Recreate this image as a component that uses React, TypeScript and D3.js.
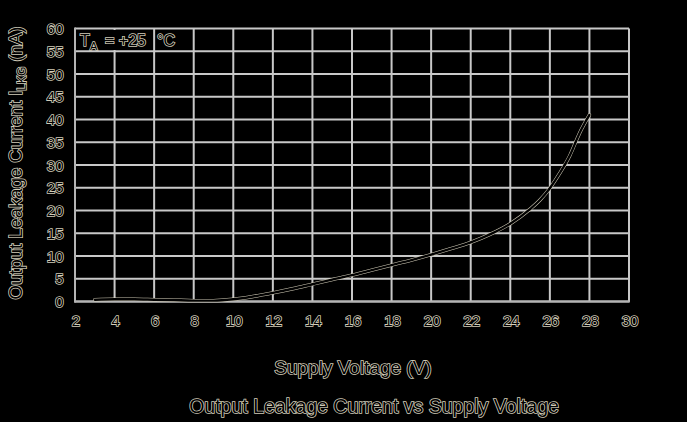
import React, { useEffect } from "react";
import * as d3 from "d3";

const voltage = [3, 4, 5, 6, 7, 8, 9, 10, 11, 12, 13, 14, 15, 16, 17, 18, 19, 20, 21, 22, 23, 24, 25, 25.5, 26, 26.5, 27, 27.5, 28];
const leakage = [0.4, 0.5, 0.5, 0.4, 0.3, 0.2, 0.2, 0.5, 1.1, 1.9, 2.8, 3.8, 4.8, 5.8, 6.9, 8.0, 9.1, 10.3, 11.6, 13.0, 14.8, 17.1, 20.3, 22.3, 24.9, 28.2, 32.0, 37.0, 41.0];
const xTicks = [2, 4, 6, 8, 10, 12, 14, 16, 18, 20, 22, 24, 26, 28, 30];
const yTicks = [0, 5, 10, 15, 20, 25, 30, 35, 40, 45, 50, 55, 60];

const W = 687;
const H = 422;
const FONT = "'Liberation Sans', Arial, sans-serif";
const GRID = "#c8c8c8";
const HALO = "#d2ccb8";

export default function App() {
  useEffect(() => {
    document.body.style.margin = "0";
    document.body.style.background = "#000";
  }, []);

  const x = d3.scaleLinear().domain([2, 30]).range([75, 629]);
  const y = d3.scaleLinear().domain([0, 60]).range([301.5, 28.5]);

  const pts: [number, number][] = voltage.map((v, i) => [v, leakage[i]]);
  const line = d3
    .line<[number, number]>()
    .x((d) => x(d[0]))
    .y((d) => y(d[1]))
    .curve(d3.curveMonotoneX);
  const path = line(pts) || "";

  const textStyle = {
    fontFamily: FONT,
    fill: "#000",
    stroke: HALO,
    strokeWidth: 1.6,
    paintOrder: "stroke",
  } as React.CSSProperties;

  return (
    <svg
      width={W}
      height={H}
      style={{ position: "fixed", left: 0, top: 0, display: "block" }}
    >
      <rect x={0} y={0} width={W} height={H} fill="#000" />
      {/* grid */}
      {xTicks.map((t) => (
        <line key={"gx" + t} x1={x(t)} x2={x(t)} y1={y(60)} y2={y(0)} stroke={GRID} strokeWidth={2} />
      ))}
      {yTicks.map((t) => (
        <line key={"gy" + t} x1={x(2)} x2={x(30)} y1={y(t)} y2={y(t)} stroke={GRID} strokeWidth={2} />
      ))}
      <line x1={x(2)} x2={x(2)} y1={y(60) - 1} y2={y(0) + 1} stroke="#b4b4b4" strokeWidth={2} />
      <line x1={x(2) - 1} x2={x(30) + 1} y1={y(0)} y2={y(0)} stroke="#b4b4b4" strokeWidth={2} />
      {/* annotation box */}
      <rect x={77} y={30} width={74} height={20} fill="#000" />
      <text x={80} y={46} fontSize={16} style={textStyle}>
        T
      </text>
      <text x={90} y={50} fontSize={11} style={textStyle}>
        A
      </text>
      <text x={105} y={46} fontSize={16} style={textStyle}>
        = +25
      </text>
      <text x={157} y={46} fontSize={16} style={textStyle}>
        °C
      </text>
      {/* curve */}
      <path d={path} fill="none" stroke={HALO} strokeWidth={3.4} strokeLinecap="round" />
      <path d={path} fill="none" stroke="#000" strokeWidth={2.4} strokeLinecap="round" />
      {/* y tick labels */}
      {yTicks.map((t) => (
        <text key={"ly" + t} x={63.5} y={y(t) + 5.5} fontSize={15} textAnchor="end" style={textStyle}>
          {t}
        </text>
      ))}
      {/* x tick labels */}
      {xTicks.map((t) => (
        <text key={"lx" + t} x={x(t) + 1} y={325.5} fontSize={15} textAnchor="middle" style={textStyle}>
          {t}
        </text>
      ))}
      {/* axis titles */}
      <text x={353} y={373.5} fontSize={19} textAnchor="middle" style={textStyle}>
        Supply Voltage (V)
      </text>
      <text
        transform="translate(21.5,163) rotate(-90)"
        x={0}
        y={0}
        fontSize={18.5}
        textAnchor="middle"
        style={textStyle}
      >
        Output Leakage Current I
        <tspan fontSize={12} dy={4}>
          LKG
        </tspan>
        <tspan dy={-4}> (nA)</tspan>
      </text>
      <text x={374} y={413} fontSize={19.5} textAnchor="middle" style={textStyle}>
        Output Leakage Current vs Supply Voltage
      </text>
    </svg>
  );
}
